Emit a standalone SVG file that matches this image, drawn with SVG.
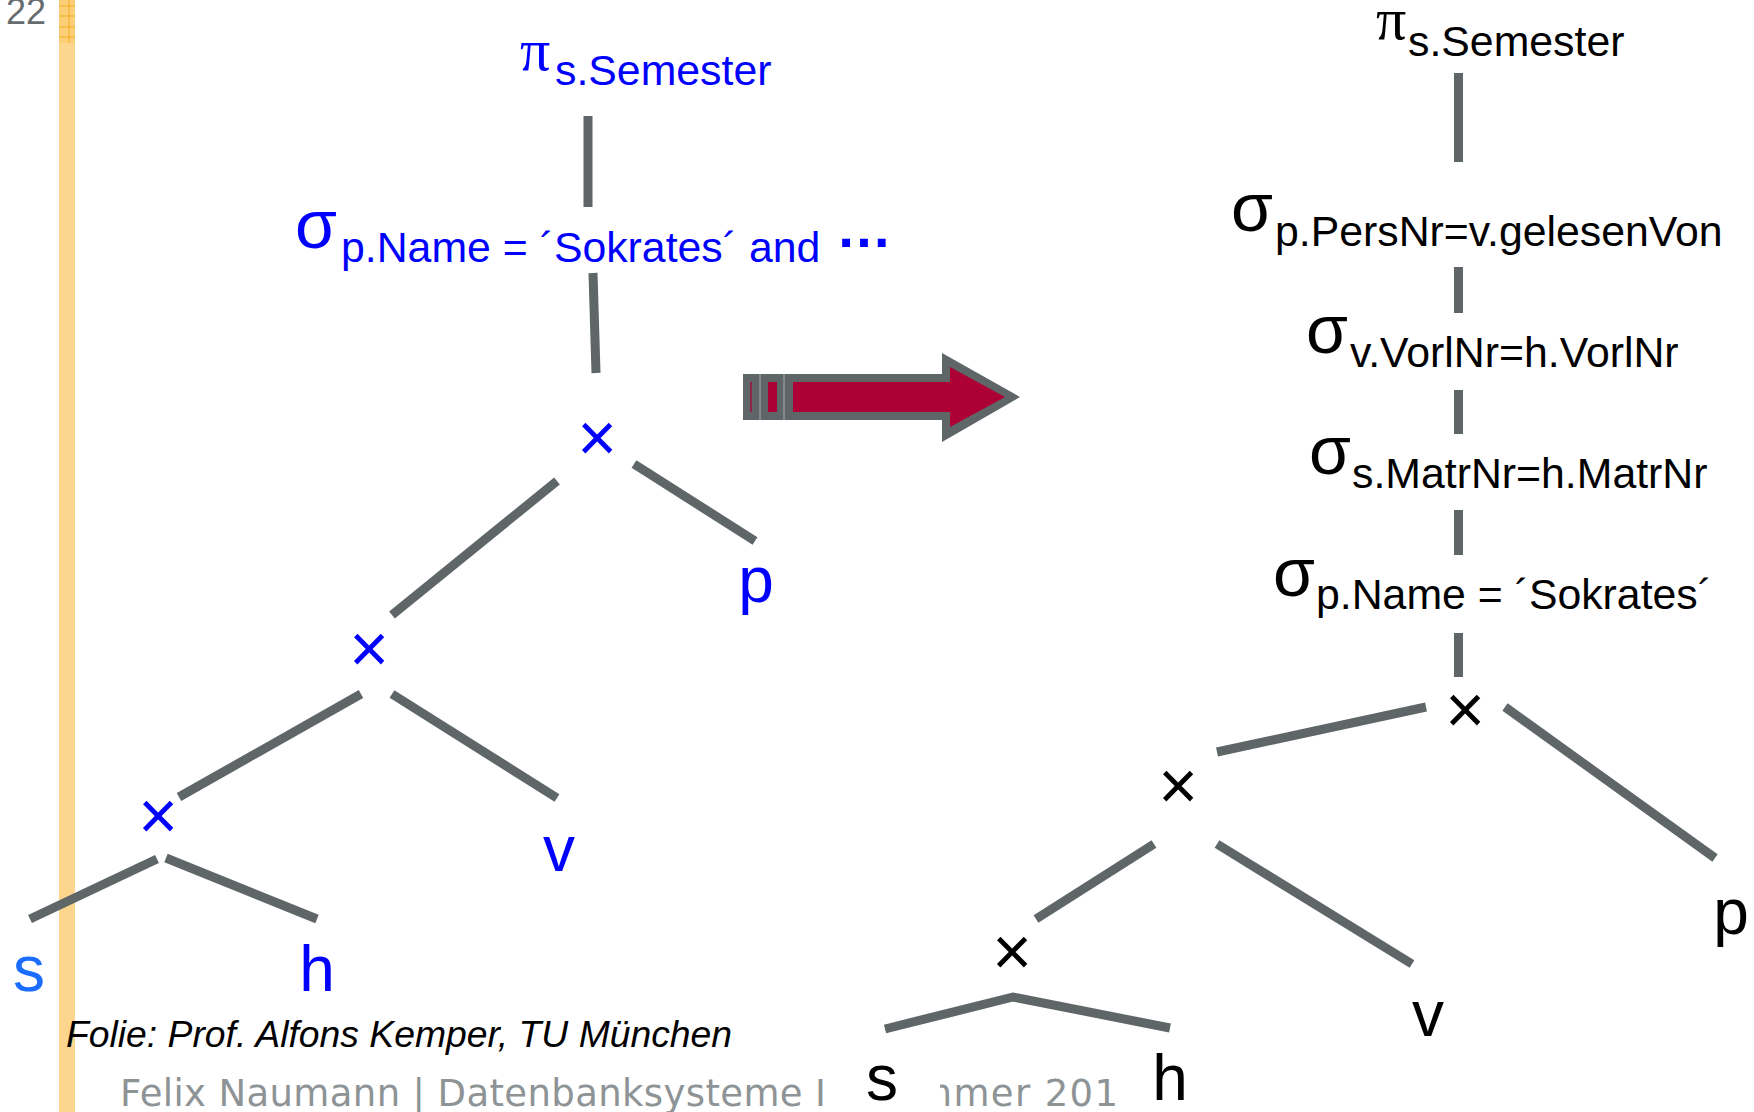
<svg xmlns="http://www.w3.org/2000/svg" width="1754" height="1112" viewBox="0 0 1754 1112">
<defs>
<style>
.t{font-family:"Liberation Sans",Arial,sans-serif}
.blue{fill:#0000ff}
.lblue{fill:#1a6dff}
.blk{fill:#000000}
.op{font-size:68px}
.pi{font-family:"Liberation Serif","Times New Roman",serif;font-size:60px}
.sub{font-size:42.8px}
.leaf{font-size:64px;text-anchor:middle}
.x{font-size:68px;text-anchor:middle}
.edge{stroke:#5f6667;stroke-width:9;fill:none;stroke-linecap:butt;stroke-linejoin:miter}
.foot{font-family:"DejaVu Sans",Verdana,sans-serif;font-size:37px;fill:#8e9396}
</style>
<clipPath id="cf1"><rect x="0" y="1060" width="826" height="60"/></clipPath>
<clipPath id="cf2"><rect x="940" y="1060" width="200" height="60"/></clipPath>
</defs>
<rect x="0" y="0" width="1754" height="1112" fill="#ffffff"/>

<g id="sidebar">
<rect x="59" y="0" width="16" height="1112" fill="#fcd68c"/>
<rect x="59" y="0" width="16" height="43" fill="#fccf76"/>
<g stroke="#f3ad22" stroke-width="1">
<line x1="69" y1="0" x2="69" y2="43"/>
<line x1="59" y1="6" x2="75" y2="6"/>
<line x1="59" y1="16" x2="75" y2="16"/>
<line x1="59" y1="27" x2="75" y2="27"/>
<line x1="59" y1="37" x2="75" y2="37"/>
</g>
</g>

<g id="page-number"><text class="t" x="6" y="24" font-size="36" fill="#666c6f">22</text></g>

<g id="connectors">
<line class="edge" x1="588" y1="116" x2="588" y2="207"/>
<line class="edge" x1="593" y1="273" x2="596" y2="373"/>
<line class="edge" x1="557" y1="481" x2="392" y2="615"/>
<line class="edge" x1="634" y1="464" x2="755" y2="541"/>
<line class="edge" x1="361" y1="694" x2="179" y2="797"/>
<line class="edge" x1="392" y1="694" x2="557" y2="798"/>
<line class="edge" x1="157" y1="859" x2="30" y2="919"/>
<line class="edge" x1="166" y1="858" x2="317" y2="919"/>

<line class="edge" x1="1458.5" y1="73" x2="1458.5" y2="162"/>
<line class="edge" x1="1458.5" y1="267" x2="1458.5" y2="313"/>
<line class="edge" x1="1458.5" y1="390" x2="1458.5" y2="434"/>
<line class="edge" x1="1458.5" y1="510" x2="1458.5" y2="555"/>
<line class="edge" x1="1458.5" y1="633" x2="1458.5" y2="677"/>
<line class="edge" x1="1426" y1="707" x2="1217" y2="752"/>
<line class="edge" x1="1505" y1="707" x2="1715" y2="858"/>
<line class="edge" x1="1154" y1="844" x2="1036" y2="919"/>
<line class="edge" x1="1217" y1="844" x2="1412" y2="964"/>
<polyline class="edge" points="885,1029 1013,997 1170,1028"/>
</g>

<g id="left-pi"><text class="t blue"><tspan class="pi" x="520" y="70">π</tspan><tspan class="sub" x="555" y="85">s.Semester</tspan></text></g>
<g id="left-sigma"><text class="t blue"><tspan class="op" x="295" y="248">σ</tspan><tspan class="sub" x="341" y="262">p.Name = ´Sokrates´ and</tspan><tspan x="836" y="247" font-size="56" font-weight="bold">…</tspan></text></g>
<g id="left-x1"><text class="t blue x" x="597" y="461">×</text></g>
<g id="left-x2"><text class="t blue x" x="369" y="672">×</text></g>
<g id="left-x3"><text class="t blue x" x="158" y="839">×</text></g>
<g id="left-p"><text class="t blue leaf" x="756" y="602">p</text></g>
<g id="left-v"><text class="t blue leaf" x="559" y="871">v</text></g>
<g id="left-s"><text class="t lblue leaf" x="29" y="991">s</text></g>
<g id="left-h"><text class="t blue leaf" x="317" y="991">h</text></g>

<g id="arrow">
<polygon points="743,374 942,374 942,353 1020,397 942,442 942,420 743,420" fill="#5f6667"/>
<polygon points="793,382 950,382 950,367 1005,397 950,427 950,412 793,412" fill="#ad0034"/>
<rect x="768" y="382" width="9" height="30" fill="#ad0034"/>
<line x1="751" y1="382" x2="751" y2="412" stroke="#ad0034" stroke-width="1.3"/>
<line x1="760" y1="374" x2="760" y2="420" stroke="#a9adae" stroke-width="1"/>
<line x1="784" y1="374" x2="784" y2="420" stroke="#a9adae" stroke-width="1"/>
</g>

<g id="right-pi"><text class="t blk"><tspan class="pi" x="1376" y="39">π</tspan><tspan class="sub" x="1408" y="56">s.Semester</tspan></text></g>
<g id="right-sigma1"><text class="t blk"><tspan class="op" x="1231" y="231">σ</tspan><tspan class="sub" x="1275" y="246">p.PersNr=v.gelesenVon</tspan></text></g>
<g id="right-sigma2"><text class="t blk"><tspan class="op" x="1306" y="353">σ</tspan><tspan class="sub" x="1350" y="367">v.VorlNr=h.VorlNr</tspan></text></g>
<g id="right-sigma3"><text class="t blk"><tspan class="op" x="1309" y="474">σ</tspan><tspan class="sub" x="1352" y="488">s.MatrNr=h.MatrNr</tspan></text></g>
<g id="right-sigma4"><text class="t blk"><tspan class="op" x="1273" y="596">σ</tspan><tspan class="sub" x="1316" y="609">p.Name = ´Sokrates´</tspan></text></g>
<g id="right-x1"><text class="t blk x" x="1465" y="733">×</text></g>
<g id="right-x2"><text class="t blk x" x="1178" y="809">×</text></g>
<g id="right-x3"><text class="t blk x" x="1012" y="975">×</text></g>
<g id="right-p"><text class="t blk leaf" x="1731" y="934">p</text></g>
<g id="right-v"><text class="t blk leaf" x="1428" y="1036">v</text></g>
<g id="right-s"><text class="t blk leaf" x="882" y="1100">s</text></g>
<g id="right-h"><text class="t blk leaf" x="1170" y="1100">h</text></g>

<g id="credit"><text class="t" x="66" y="1047" font-size="37.3" font-style="italic" fill="#000">Folie: Prof. Alfons Kemper, TU München</text></g>
<g id="footer">
<text class="foot" x="120" y="1106" textLength="706" lengthAdjust="spacing" clip-path="url(#cf1)">Felix Naumann | Datenbanksysteme I</text>
<text class="foot" x="916" y="1106" textLength="202" lengthAdjust="spacing" clip-path="url(#cf2)">mmer 201</text>
</g>
</svg>
